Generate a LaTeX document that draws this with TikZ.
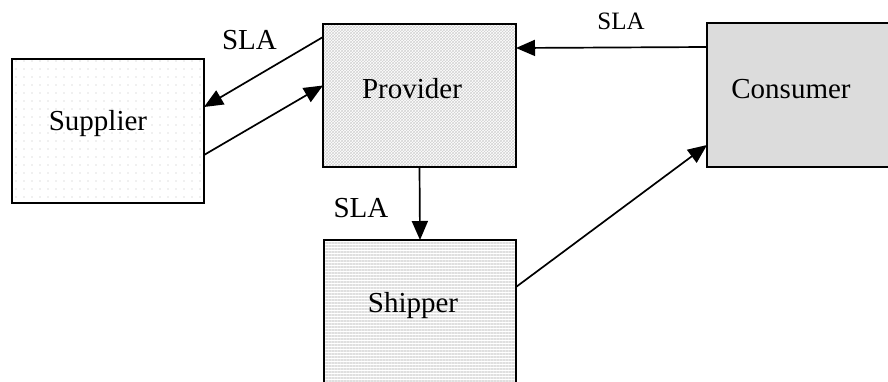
\documentclass[tikz,border=0pt]{standalone}
\usepackage{fontspec}
\setmainfont{Liberation Serif}
\usetikzlibrary{arrows.meta,patterns,patterns.meta}

\tikzset{
  box/.style={draw, line width=1.7pt, rectangle, outer sep=0pt, inner sep=0pt},
  boxtext/.style={font=\fontsize{29}{32}\selectfont, anchor=base, inner sep=0pt},
  slatext/.style={font=\fontsize{29}{32}\selectfont, anchor=base, inner sep=0pt},
  link/.style={line width=1.7pt, -{Triangle[length=19pt,width=16pt]}},
}

\begin{document}
\begin{tikzpicture}[x=1pt,y=-1pt]
  \useasboundingbox (0,0) rectangle (888,381);

  % boxes (Consumer and Shipper run past the right and bottom edges)
  \node[box, minimum width=192pt, minimum height=144pt,
        pattern={Dots[distance=8pt, radius=0.7pt]}, pattern color=gray!50]
        (supplier) at (108,131) {};
  \node[box, minimum width=193pt, minimum height=143pt,
        pattern=crosshatch, pattern color=gray!35]
        (provider) at (419.5,95.5) {};
  \node[box, minimum width=192pt, minimum height=152pt,
        pattern={Lines[angle=0, distance=3pt, line width=1.1pt]}, pattern color=gray!25]
        (shipper) at (420,316) {};
  \node[box, minimum width=193pt, minimum height=144pt, fill={rgb,255:red,220;green,220;blue,220}]
        (consumer) at (803.5,95) {};

  % box captions
  \node[boxtext] (supplierlbl) at (98,130) {Supplier};
  \node[boxtext] (providerlbl) at (412,98) {Provider};
  \node[boxtext] (shipperlbl) at (413,312) {Shipper};
  \node[boxtext] (consumerlbl) at (791,98) {Consumer};

  % connectors
  \draw[link] ([yshift=-13pt]provider.north west) -- ([yshift=24pt]supplier.east);
  \draw[link] ([yshift=-24pt]supplier.east) -- ([yshift=10pt]provider.west);
  \draw[link] ([yshift=-24pt]consumer.north west) -- ([yshift=-24pt]provider.north east);
  \draw[link] (provider.south) -- (shipper.north);
  \draw[link] ([yshift=-47pt]shipper.north east) -- ([yshift=22pt]consumer.south west);

  % agreement labels
  \node[slatext] (sla1) at (249.5,49) {SLA};
  \node[slatext, font=\fontsize{25}{28}\selectfont] (sla2) at (621,29) {SLA};
  \node[slatext] (sla3) at (361,217) {SLA};
\end{tikzpicture}
\end{document}
